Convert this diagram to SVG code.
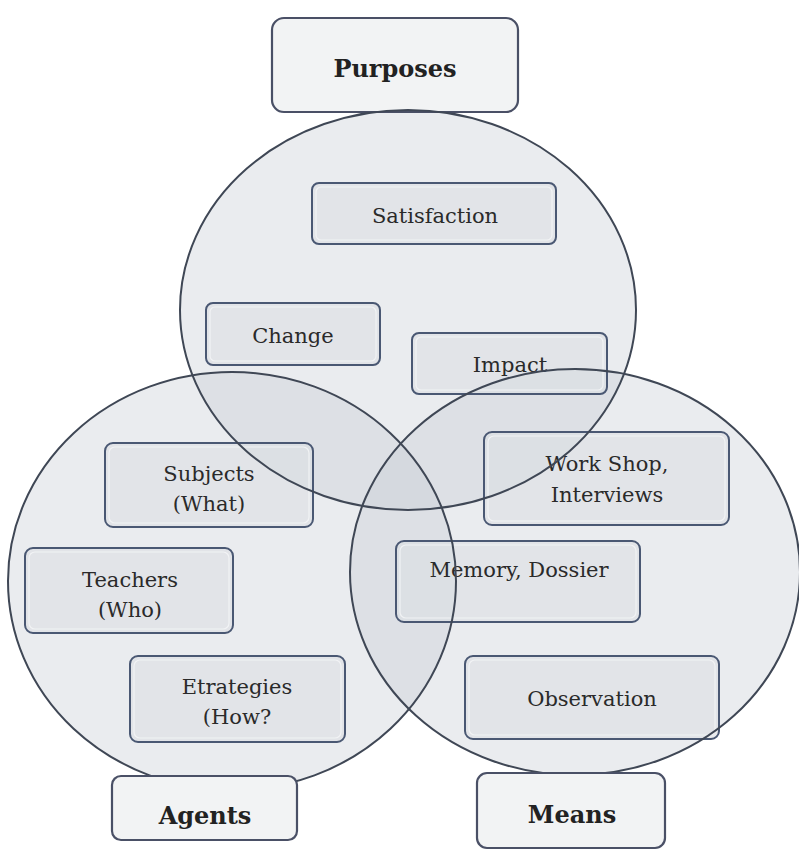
<svg xmlns="http://www.w3.org/2000/svg" width="799" height="852" viewBox="0 0 799 852">
<style>
.circ{fill:#c9ced4;fill-opacity:0.38;stroke:none}
.ring{fill:none;stroke:#3f4755;stroke-width:2}
.box{fill:#dcdfe3;fill-opacity:0.6;stroke:#4a5873;stroke-width:2}
.inner{fill:none;stroke:#f5f6f8;stroke-opacity:0.8;stroke-width:1.2}
.hbox{fill:#f2f3f4;stroke:#4a5066;stroke-width:2.2}
.t{font-family:"DejaVu Serif","Liberation Serif",serif;font-size:21px;fill:#2a2a2a;text-anchor:middle}
.h{font-family:"DejaVu Serif","Liberation Serif",serif;font-size:24px;font-weight:bold;fill:#222;text-anchor:middle}
</style>
<rect width="799" height="852" fill="#ffffff"/>
<g id="circles">
<ellipse id="c-purposes" class="circ" cx="408" cy="310" rx="228" ry="200"/>
<ellipse id="c-agents" class="circ" cx="232" cy="581" rx="224" ry="209"/>
<ellipse id="c-means" class="circ" cx="575" cy="572" rx="225" ry="203"/>
</g>
<g id="connectors"></g>
<g id="purposes"><rect class="hbox" x="272" y="18" width="246" height="94" rx="12"/><text class="h" x="395" y="77">Purposes</text></g>
<g id="satisfaction"><rect class="box" x="312" y="183" width="244" height="61" rx="7"/><rect class="inner" x="316" y="187" width="236" height="53" rx="5"/><text class="t" x="435" y="223">Satisfaction</text></g>
<g id="change"><rect class="box" x="206" y="303" width="174" height="62" rx="7"/><rect class="inner" x="210" y="307" width="166" height="54" rx="5"/><text class="t" x="293" y="343">Change</text></g>
<g id="impact"><rect class="box" x="412" y="333" width="195" height="61" rx="7"/><rect class="inner" x="416" y="337" width="187" height="53" rx="5"/><text class="t" x="510" y="372">Impact</text></g>
<g id="subjects"><rect class="box" x="105" y="443" width="208" height="84" rx="8"/><rect class="inner" x="109" y="447" width="200" height="76" rx="6"/><text class="t" x="209" y="481">Subjects</text><text class="t" x="209" y="511">(What)</text></g>
<g id="teachers"><rect class="box" x="25" y="548" width="208" height="85" rx="8"/><rect class="inner" x="29" y="552" width="200" height="77" rx="6"/><text class="t" x="130" y="587">Teachers</text><text class="t" x="130" y="617">(Who)</text></g>
<g id="strategies"><rect class="box" x="130" y="656" width="215" height="86" rx="8"/><rect class="inner" x="134" y="660" width="207" height="78" rx="6"/><text class="t" x="237" y="694">Etrategies</text><text class="t" x="237" y="724">(How?</text></g>
<g id="workshop"><rect class="box" x="484" y="432" width="245" height="93" rx="8"/><rect class="inner" x="488" y="436" width="237" height="85" rx="6"/><text class="t" x="607" y="471">Work Shop,</text><text class="t" x="607" y="502">Interviews</text></g>
<g id="memory"><rect class="box" x="396" y="541" width="244" height="81" rx="8"/><rect class="inner" x="400" y="545" width="236" height="73" rx="6"/><text class="t" x="519" y="577">Memory, Dossier</text></g>
<g id="observation"><rect class="box" x="465" y="656" width="254" height="83" rx="8"/><rect class="inner" x="469" y="660" width="246" height="75" rx="6"/><text class="t" x="592" y="706">Observation</text></g>
<g id="circle-outlines">
<ellipse class="ring" cx="408" cy="310" rx="228" ry="200"/>
<ellipse class="ring" cx="232" cy="581" rx="224" ry="209"/>
<ellipse class="ring" cx="575" cy="572" rx="225" ry="203"/>
</g>
<g id="agents"><rect class="hbox" x="112" y="776" width="185" height="64" rx="9"/><text class="h" x="205" y="824">Agents</text></g>
<g id="means"><rect class="hbox" x="477" y="773" width="188" height="75" rx="10"/><text class="h" x="572" y="823">Means</text></g>
</svg>
